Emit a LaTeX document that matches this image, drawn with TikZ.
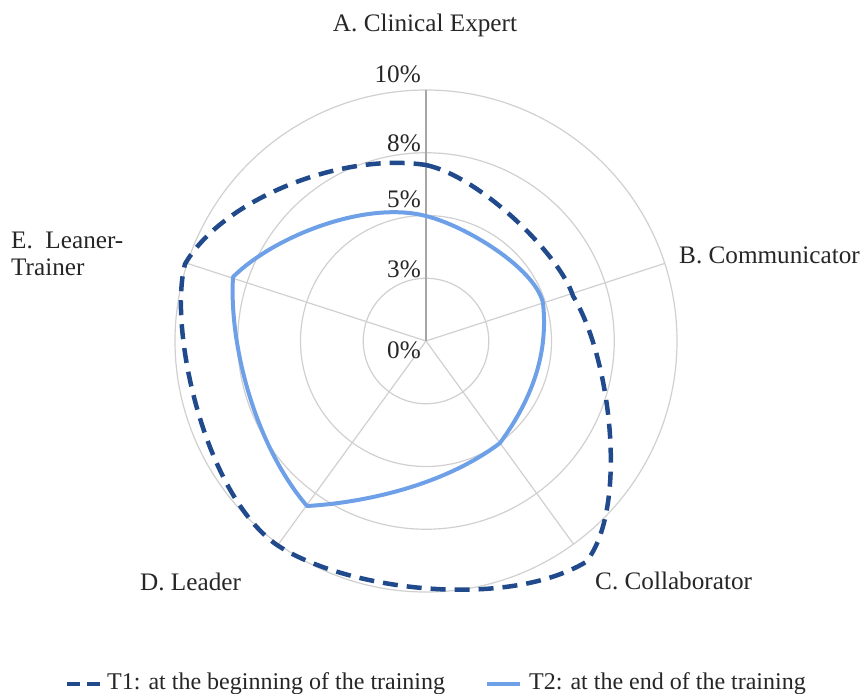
\documentclass[tikz,border=0pt]{standalone}
\usepackage{fontspec}
\setmainfont{Liberation Serif}
\definecolor{darkblue}{HTML}{214A8C}
\definecolor{lightblue}{HTML}{6EA0E8}
\definecolor{gridgray}{HTML}{D0D0D0}
\definecolor{axisgray}{HTML}{A6A6A6}
\definecolor{txt}{HTML}{262626}
\begin{document}
\begin{tikzpicture}[x=1pt,y=-1pt,
  gridline/.style={draw=gridgray,line width=1.2pt},
  spoke/.style={draw=gridgray,line width=1.2pt},
  valaxis/.style={draw=axisgray,line width=1.2pt},
  tone/.style={draw=darkblue,line width=4.5pt,dash pattern=on 15pt off 9pt,line join=round},
  ttwo/.style={draw=lightblue,line width=4pt,line join=round},
  cat/.style={font=\fontsize{25.2}{27}\selectfont,text=txt,inner sep=0pt},
  pct/.style={font=\fontsize{25.2}{27}\selectfont,text=txt,inner sep=0pt,anchor=base east},
  leg/.style={font=\fontsize{24}{26}\selectfont,text=txt,inner sep=0pt,anchor=base west}]
\useasboundingbox (0,0) rectangle (863,694);
% centre and axis ends
\coordinate (O) at (426,341);
\coordinate (aA) at (426,90);
\coordinate (aB) at (664.7,263.4);
\coordinate (aC) at (573.5,544.1);
\coordinate (aD) at (278.5,544.1);
\coordinate (aE) at (187.3,263.4);
% grid circles
\foreach \r in {62.75,125.5,188.25,251}
  \draw[gridline] (O) circle[radius=\r pt];
% spokes
\draw[spoke] (O) -- (aB);
\draw[spoke] (O) -- (aC);
\draw[spoke] (O) -- (aD);
\draw[spoke] (O) -- (aE);
\draw[valaxis] (O) -- (aA);
% value labels
\node[pct] (p10) at (421,82) {10\%};
\node[pct] (p8) at (421,151) {8\%};
\node[pct] (p5) at (421,207) {5\%};
\node[pct] (p3) at (421,277) {3\%};
\node[pct] (p0) at (421,358) {0\%};
% category labels
\node[cat,anchor=base] (lA) at (425,31.5) {A. Clinical Expert};
\node[cat,anchor=base west] (lB) at (679,263) {B. Communicator};
\node[cat,anchor=base west] (lC) at (595,589) {C. Collaborator};
\node[cat,anchor=base west] (lD) at (140,590) {D. Leader};
\node[cat,anchor=base west] (lE1) at (11,248) {E.\ \ Leaner-};
\node[cat,anchor=base west] (lE2) at (11,275) {Trainer};
% T1 data
\coordinate (A1) at (426,165);
\coordinate (B1) at (573,296);
\coordinate (C1) at (586,562);
\coordinate (D1) at (277,545);
\coordinate (E1) at (185,264);
\draw[tone] (A1) .. controls (481,177) and (560,255) .. (B1)
  .. controls (612,360) and (628,510) .. (C1)
  .. controls (505,610) and (345,590) .. (D1)
  .. controls (205,495) and (168,330) .. (E1)
  .. controls (222,200) and (340,152) .. (A1) -- cycle;
% T2 data
\coordinate (A2) at (426,216);
\coordinate (B2) at (543,303);
\coordinate (C2) at (500,443);
\coordinate (D2) at (307,506);
\coordinate (E2) at (233,277);
\draw[ttwo] (A2) .. controls (466,226) and (535,268) .. (B2)
  .. controls (548,350) and (535,395) .. (C2)
  .. controls (442,487) and (360,503) .. (D2)
  .. controls (255,445) and (229,345) .. (E2)
  .. controls (273,237) and (365,200) .. (A2) -- cycle;
% legend
\coordinate (l1a) at (67,684);
\coordinate (l1b) at (100,684);
\coordinate (l2a) at (487,684);
\coordinate (l2b) at (520,684);
\draw[tone,dash pattern=on 13pt off 7pt] (l1a) -- (l1b);
\draw[ttwo] (l2a) -- (l2b);
\node[leg] (t1) at (107,689) {T1: at the beginning of the training};
\node[leg] (t2) at (529,689) {T2: at the end of the training};
\end{tikzpicture}
\end{document}
